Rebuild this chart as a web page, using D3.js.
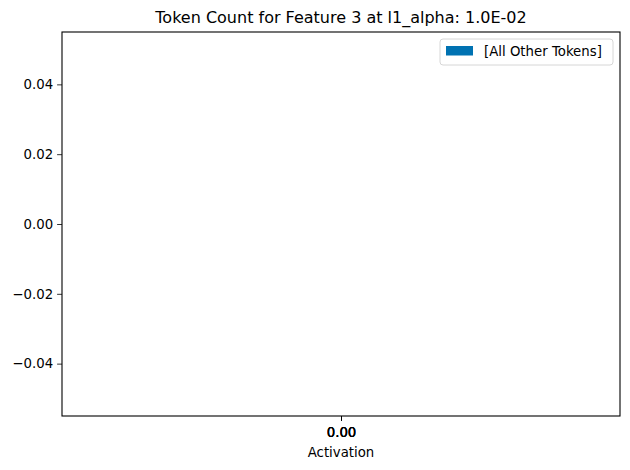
<!DOCTYPE html>
<html lang="en">
<head>
    <meta charset="UTF-8">
    <title>Token Count</title>
    <script src="https://d3js.org/d3.v7.min.js"></script>
    <style>
        body { margin: 0; background: #fff; }
        text { font-family: "DejaVu Sans", sans-serif; fill: #000; }
    </style>
</head>
<body>
    <div id="chart"></div>
    <script>
        // Data (the chart is empty: no bars, only the legend entry)
        var seriesNames = ["[All Other Tokens]"];
        var seriesColors = ["#0072b2"];
        var activations = [];          // no bars
        var counts = [];
        var xTicks = [0, 0, 0];        // overlapping ticks at 0.00
        var yTicks = [-0.04, -0.02, 0.00, 0.02, 0.04];
        var titleText = "Token Count for Feature 3 at l1_alpha: 1.0E-02";
        var xLabel = "Activation";

        var width = 630, height = 470;
        var margin = { top: 32, right: 10, bottom: 54, left: 62 };
        var iw = width - margin.left - margin.right;
        var ih = height - margin.top - margin.bottom;

        var svg = d3.select("#chart").append("svg")
            .attr("width", width)
            .attr("height", height);

        var g = svg.append("g")
            .attr("transform", "translate(" + margin.left + "," + margin.top + ")");

        var x = d3.scaleLinear().domain([-0.055, 0.055]).range([0, iw]);
        var y = d3.scaleLinear().domain([-0.055, 0.055]).range([ih, 0]);

        // bars (none)
        g.selectAll("rect.bar")
            .data(activations)
            .enter().append("rect")
            .attr("class", "bar")
            .attr("x", function (d) { return x(d) - 2; })
            .attr("width", 4)
            .attr("y", function (d, i) { return y(counts[i]); })
            .attr("height", function (d, i) { return y(0) - y(counts[i]); })
            .attr("fill", seriesColors[0]);

        // y axis
        var yAxis = g.append("g")
            .call(d3.axisLeft(y).tickValues(yTicks).tickSize(4.9).tickPadding(4)
                .tickFormat(function (d) { return d3.format(".2f")(d).replace("-", "\u2212"); }));
        yAxis.select(".domain").remove();
        yAxis.selectAll("line").attr("stroke", "#000").attr("stroke-width", 0.8);
        yAxis.selectAll("text").style("font-size", "13.3px").style("font-family", "DejaVu Sans");

        // x axis with overlapping ticks
        var xAxis = g.append("g")
            .attr("transform", "translate(0," + ih + ")")
            .call(d3.axisBottom(x).tickValues(xTicks).tickSize(4.9).tickPadding(6.5)
                .tickFormat(d3.format(".2f")));
        xAxis.select(".domain").remove();
        xAxis.selectAll("line").attr("stroke", "#000").attr("stroke-width", 0.8);
        xAxis.selectAll("text").style("font-size", "13.3px").style("font-family", "DejaVu Sans");

        // frame
        g.append("rect")
            .attr("width", iw).attr("height", ih)
            .attr("fill", "none")
            .attr("stroke", "#000")
            .attr("stroke-width", 1.1);

        // title
        svg.append("text")
            .attr("x", margin.left + iw / 2)
            .attr("y", margin.top - 9)
            .attr("text-anchor", "middle")
            .style("font-size", "16px")
            .text(titleText);

        // x label
        svg.append("text")
            .attr("x", margin.left + iw / 2)
            .attr("y", margin.top + ih + 41)
            .attr("text-anchor", "middle")
            .style("font-size", "13.3px")
            .text(xLabel);

        // legend
        var lg = g.append("g").attr("transform", "translate(" + (iw - 180) + ",7)");
        lg.append("rect")
            .attr("width", 173).attr("height", 26)
            .attr("rx", 3)
            .attr("fill", "#fff")
            .attr("fill-opacity", 0.8)
            .attr("stroke", "#d6d6d6");
        lg.selectAll("rect.key")
            .data(seriesNames)
            .enter().append("rect")
            .attr("class", "key")
            .attr("x", 6).attr("y", 7)
            .attr("width", 27).attr("height", 9.5)
            .attr("fill", function (d, i) { return seriesColors[i]; });
        lg.selectAll("text.key")
            .data(seriesNames)
            .enter().append("text")
            .attr("class", "key")
            .attr("x", 44).attr("y", 17)
            .style("font-size", "13.3px")
            .text(function (d) { return d; });
    </script>
</body>
</html>
